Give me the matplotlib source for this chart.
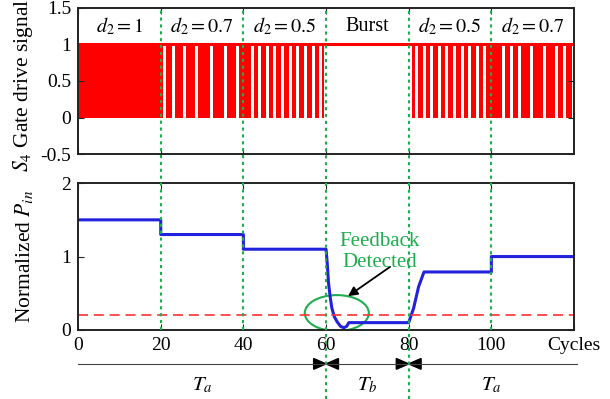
import matplotlib
matplotlib.use("Agg")
import matplotlib.pyplot as plt
import matplotlib.transforms as mtransforms
from matplotlib.patches import Ellipse, Polygon, FancyArrowPatch

plt.rcParams['font.family'] = ['Liberation Serif', 'DejaVu Serif']
plt.rcParams['mathtext.fontset'] = 'stix'

# gate drive signal: centres of the skipped cycles (white gaps)
gaps_d07_a = [20.8, 23.2, 25.8, 28.7, 32.4, 35.6, 38.6]
gaps_d05_a = [42.2, 44.0, 45.9, 47.6, 49.4, 51.3, 53.2, 55.1, 56.9, 58.7]
burst_span = (59.6, 80.9)
gaps_d05_b = [82.0, 83.8, 85.6, 87.4, 89.2, 91.1, 92.9, 94.7, 96.7, 98.4]
gaps_d07_b = [102.9, 104.8, 106.8, 109.7, 112.8, 115.8, 117.6]
end_gap = (119.4, 120.0)
gap_width = 0.72

region_labels = ['$d_2 = 1$', '$d_2 = 0.7$', '$d_2 = 0.5$', 'Burst', '$d_2 = 0.5$', '$d_2 = 0.7$']
region_centres = [10, 30, 50, 70, 90, 110]

# normalized input power
pin_x = [0, 20, 20, 40, 40, 60, 60.3, 60.6, 61.0, 61.4, 62.0, 62.7, 63.5, 64.3,
         65.0, 65.5, 66.0, 80, 81.2, 82.4, 83.7, 100, 100, 120]
pin_y = [1.5, 1.5, 1.3, 1.3, 1.1, 1.1, 0.9, 0.64, 0.45, 0.3, 0.18, 0.11, 0.05, 0.03,
         0.05, 0.1, 0.1, 0.1, 0.3, 0.59, 0.79, 0.79, 1.0, 1.0]
threshold = 0.2

boundaries = [20, 40, 60, 80, 100]
long_boundaries = [60, 80]
periods = ['$T_a$', '$T_b$', '$T_a$']
period_centres = [30, 70, 100]

green = '#1fae4f'
edge = '#222222'

fig = plt.figure(figsize=(6.1, 3.99), dpi=100)
ax1 = fig.add_axes([0.128, 0.614, 0.813, 0.366])
ax2 = fig.add_axes([0.128, 0.173, 0.813, 0.368])

# build the step signal from the gaps
gaps = [(c - gap_width / 2, c + gap_width / 2) for c in gaps_d07_a + gaps_d05_a]
gaps += [burst_span]
gaps += [(c - gap_width / 2, c + gap_width / 2) for c in gaps_d05_b + gaps_d07_b]
gaps += [end_gap]
xs, ys = [0], [1]
for a, b in gaps:
    xs += [a, b]
    ys += [0, 1]
xs.append(120)
ys.append(1)

ax1.fill_between(xs, 0, ys, step='post', color='red', lw=0)
ax1.plot([0, 120], [1, 1], color='red', lw=2.2)
for lab, xc in zip(region_labels, region_centres):
    ax1.text(xc, 1.25, lab, ha='center', va='center', fontsize=14.5)
ax1.set_xlim(0, 120)
ax1.set_ylim(-0.5, 1.5)
ax1.set_yticks([-0.5, 0, 0.5, 1, 1.5])
ax1.set_yticklabels(['-0.5', '0', '0.5', '1', '1.5'])
ax1.set_xticks([0, 20, 40, 60, 80, 100])
ax1.set_xticklabels([])
ax1.set_ylabel('$S_4$ Gate drive signal', fontsize=15.5)
ax1.yaxis.set_label_coords(-0.087, 0.47)

ax2.plot(pin_x, pin_y, color='#2222dd', lw=2.2)
ax2.axhline(threshold, color='#ff3030', lw=1.2, dashes=(6, 3.5))
ax2.add_patch(Ellipse((62.6, 0.23), 15.5, 0.49, fill=False, ec=green, lw=1.5))
ax2.text(73, 1.06, 'Feedback\nDetected', color=green, ha='center', va='center',
         fontsize=15, linespacing=1.15)
ax2.add_patch(FancyArrowPatch((75.5, 0.86), (65.3, 0.46), arrowstyle='-|>',
                              color='black', lw=1.3, mutation_scale=14,
                              shrinkA=0, shrinkB=0))
ax2.set_xlim(0, 120)
ax2.set_ylim(0, 2)
ax2.set_yticks([0, 1, 2])
ax2.set_xticks([0, 20, 40, 60, 80, 100, 120])
ax2.set_xticklabels(['0', '20', '40', '60', '80', '100', 'Cycles'])
ax2.set_ylabel('Normalized $P_{in}$', fontsize=15.5)
ax2.yaxis.set_label_coords(-0.087, 0.5)

for ax in (ax1, ax2):
    ax.tick_params(direction='in', length=4, top=True, right=True, labelsize=14,
                   color=edge, pad=5)
    for s in ax.spines.values():
        s.set_color(edge)
        s.set_linewidth(1.4)

# green dotted boundaries across both panels
blend = mtransforms.blended_transform_factory(ax2.transData, fig.transFigure)
for b in boundaries:
    y0 = 0.0 if b in long_boundaries else 0.173
    ax2.plot([b, b], [y0, 0.98], color=green, lw=1.5, dashes=(1.5, 1.8),
             transform=blend, clip_on=False, zorder=5)

# period bar under the axes
bar_y = 0.088
ax2.plot([0, 120.7], [bar_y, bar_y], color='#444444', lw=0.8, transform=blend, clip_on=False)
tri_w, tri_h = 3.0, 0.0135
for b in long_boundaries:
    for side in (-1, 1):
        ax2.add_patch(Polygon([(b + side * tri_w, bar_y + tri_h), (b + side * tri_w, bar_y - tri_h),
                               (b, bar_y)], closed=True, color='black', transform=blend,
                              clip_on=False))
for lab, xc in zip(periods, period_centres):
    ax2.text(xc, 0.035, lab, ha='center', va='center', fontsize=15, transform=blend)

fig.savefig('out.png', dpi=100)
